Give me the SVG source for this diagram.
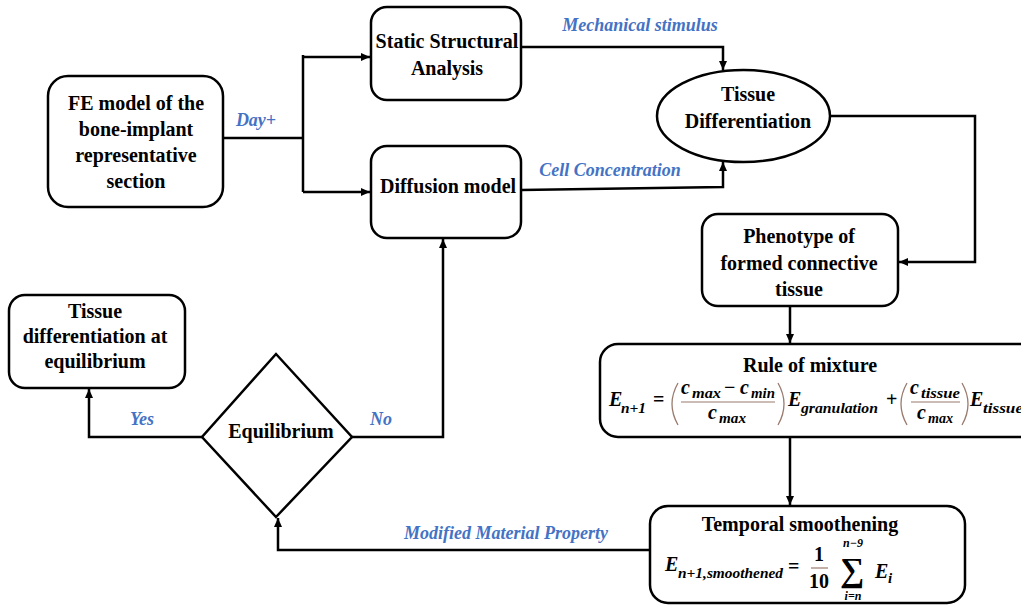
<svg xmlns="http://www.w3.org/2000/svg" width="1021" height="606" viewBox="0 0 1021 606">
<style>
.box{fill:#fff;stroke:#000;stroke-width:2.5}
.t{font-family:"Liberation Serif","Times New Roman",serif;font-weight:bold;font-size:20px;fill:#000;text-anchor:middle}
.lbl{font-family:"Liberation Serif","Times New Roman",serif;font-weight:bold;font-style:italic;font-size:18px;fill:#4472C4;text-anchor:middle}
.m{font-family:"Liberation Serif","Times New Roman",serif;font-weight:bold;font-style:italic;font-size:20px;fill:#000}
.ms{font-family:"Liberation Serif","Times New Roman",serif;font-weight:bold;font-style:italic;font-size:15px;fill:#000}
.mn{font-family:"Liberation Serif","Times New Roman",serif;font-weight:bold;font-size:20px;fill:#000}
.par{fill:none;stroke:#9a7a6e;stroke-width:1.3}
.c{fill:none;stroke:#000;stroke-width:2.5}
</style>
<defs>
<marker id="ah" markerUnits="userSpaceOnUse" markerWidth="10" markerHeight="10" refX="9" refY="4" orient="auto">
<path d="M0,0 L9,4 L0,8 Z" fill="#000"/>
</marker>
</defs>
<rect width="1021" height="606" fill="#fff"/>
<g id="connectors">
<path class="c" d="M223,138 H303"/>
<path class="c" d="M303,55 V192"/>
<path class="c" d="M303,57 H370" marker-end="url(#ah)"/>
<path class="c" d="M303,192 H370" marker-end="url(#ah)"/>
<path class="c" d="M521,47 H723 V70" marker-end="url(#ah)"/>
<path class="c" d="M521,190 L723,187 V162" marker-end="url(#ah)"/>
<path class="c" d="M830,116 H975 V262 H899" marker-end="url(#ah)"/>
<path class="c" d="M790,306 V343" marker-end="url(#ah)"/>
<path class="c" d="M790,437 V505" marker-end="url(#ah)"/>
<path class="c" d="M650,550 H278 V518" marker-end="url(#ah)"/>
<path class="c" d="M202,437 H89 V389" marker-end="url(#ah)"/>
<path class="c" d="M352,437 H443 V239" marker-end="url(#ah)"/>
<text class="lbl" x="256" y="126">Day+</text>
<text class="lbl" x="640" y="31">Mechanical stimulus</text>
<text class="lbl" x="610" y="176">Cell Concentration</text>
<text class="lbl" x="506" y="539">Modified Material Property</text>
<text class="lbl" x="142" y="425">Yes</text>
<text class="lbl" x="381" y="425">No</text>
</g>
<g id="fe">
<rect class="box" x="48" y="76" width="175" height="131" rx="20"/>
<text class="t" x="136" y="110">FE model of the</text>
<text class="t" x="136" y="136">bone-implant</text>
<text class="t" x="136" y="162">representative</text>
<text class="t" x="136" y="188">section</text>
</g>
<g id="static">
<rect class="box" x="371" y="7" width="150" height="93" rx="16"/>
<text class="t" x="447" y="48">Static Structural</text>
<text class="t" x="447" y="75">Analysis</text>
</g>
<g id="diffusion">
<rect class="box" x="371" y="146" width="150" height="92" rx="16"/>
<text class="t" x="448" y="193">Diffusion model</text>
</g>
<g id="tissuediff">
<ellipse class="box" cx="743.5" cy="116" rx="86.5" ry="46"/>
<text class="t" x="748" y="101">Tissue</text>
<text class="t" x="748" y="128">Differentiation</text>
</g>
<g id="phenotype">
<rect class="box" x="702" y="214" width="196" height="92" rx="16"/>
<text class="t" x="799" y="243">Phenotype of</text>
<text class="t" x="799" y="270">formed connective</text>
<text class="t" x="799" y="296">tissue</text>
</g>
<g id="rule">
<rect class="box" x="600" y="344" width="440" height="93" rx="18"/>
<text class="t" x="810" y="372">Rule of mixture</text>
<text class="m" x="609" y="406">E</text>
<text class="ms" x="621" y="413" textLength="25" lengthAdjust="spacingAndGlyphs">n+1</text>
<text class="mn" x="653" y="406">=</text>
<path class="par" d="M678,383 Q666,404 678,425"/>
<text class="m" x="681" y="394">c</text>
<text class="ms" x="692" y="398" textLength="29" lengthAdjust="spacingAndGlyphs">max</text>
<text class="mn" x="724" y="394">−</text>
<text class="m" x="740" y="394">c</text>
<text class="ms" x="751" y="398" textLength="24" lengthAdjust="spacingAndGlyphs">min</text>
<line x1="681" y1="402" x2="775" y2="402" stroke="#9a7a6e" stroke-width="1.2"/>
<text class="m" x="708" y="419">c</text>
<text class="ms" x="719" y="423" textLength="27" lengthAdjust="spacingAndGlyphs">max</text>
<path class="par" d="M778,383 Q790,404 778,425"/>
<text class="m" x="788" y="406">E</text>
<text class="ms" x="801" y="413" textLength="77" lengthAdjust="spacingAndGlyphs">granulation</text>
<text class="mn" x="886" y="406">+</text>
<path class="par" d="M907,383 Q895,404 907,425"/>
<text class="m" x="910" y="394">c</text>
<text class="ms" x="921" y="398" textLength="39" lengthAdjust="spacingAndGlyphs">tissue</text>
<line x1="911" y1="402" x2="960" y2="402" stroke="#9a7a6e" stroke-width="1.2"/>
<text class="m" x="917" y="419">c</text>
<text class="ms" x="928" y="423" textLength="25" lengthAdjust="spacingAndGlyphs">max</text>
<path class="par" d="M962,383 Q974,404 962,425"/>
<text class="m" x="970" y="406">E</text>
<text class="ms" x="983" y="413" textLength="40" lengthAdjust="spacingAndGlyphs">tissue</text>
</g>
<g id="temporal">
<rect class="box" x="650" y="506" width="315" height="97" rx="18"/>
<text class="t" x="800" y="531">Temporal smoothening</text>
<text class="m" x="665" y="571">E</text>
<text class="ms" x="678" y="578" textLength="105" lengthAdjust="spacingAndGlyphs">n+1,smoothened</text>
<text class="mn" x="788" y="573">=</text>
<text class="mn" x="819" y="561" text-anchor="middle">1</text>
<line x1="811" y1="568" x2="828" y2="568" stroke="#9a7a6e" stroke-width="1.2"/>
<text class="mn" x="819" y="588" text-anchor="middle">10</text>
<text class="ms" x="853" y="546.5" text-anchor="middle" style="font-size:12px">n−9</text>
<text class="mn" x="852" y="581" text-anchor="middle" style="font-size:34px">∑</text>
<text class="ms" x="853" y="599.5" text-anchor="middle" style="font-size:12px">i=n</text>
<text class="m" x="875" y="578">E</text>
<text class="ms" x="888" y="583">i</text>
</g>
<g id="equilibrium">
<polygon class="box" points="276,354 352,437 276,517 202,437"/>
<text class="t" x="281" y="438">Equilibrium</text>
</g>
<g id="equilbox">
<rect class="box" x="9" y="295" width="176" height="93" rx="16"/>
<text class="t" x="95" y="318">Tissue</text>
<text class="t" x="95" y="343">differentiation at</text>
<text class="t" x="95" y="368">equilibrium</text>
</g>
</svg>
